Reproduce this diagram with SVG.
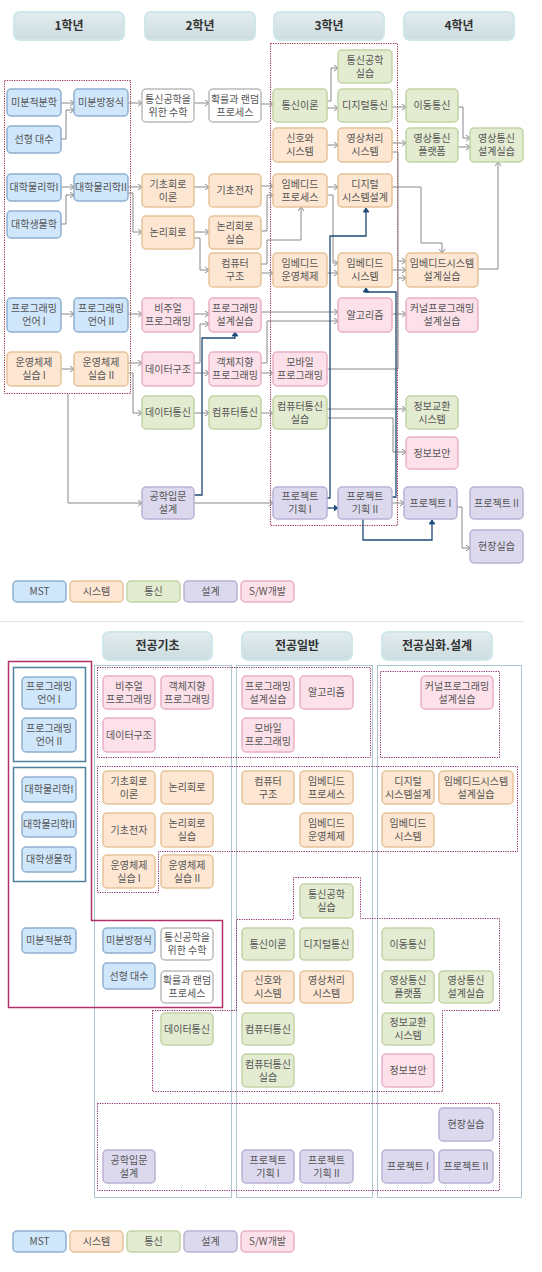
<svg xmlns="http://www.w3.org/2000/svg" width="542" height="1272" viewBox="0 0 542 1272">
<defs>
<linearGradient id="hg" x1="0" y1="0" x2="0" y2="1"><stop offset="0" stop-color="#e3edef"/><stop offset="1" stop-color="#ccdcdf"/></linearGradient>
<marker id="ag" markerUnits="userSpaceOnUse" markerWidth="6" markerHeight="7" refX="4.5" refY="3.5" orient="auto"><path d="M0.5,0.5 L4.5,3.5 L0.5,6.5" fill="none" stroke="#888" stroke-width="1"/></marker>
<marker id="ab" markerUnits="userSpaceOnUse" markerWidth="6" markerHeight="7" refX="4.5" refY="3.5" orient="auto"><path d="M0.5,0.5 L4.5,3.5 L0.5,6.5 Z" fill="#1c4a78" stroke="#1c4a78" stroke-width="0.8"/></marker>
</defs>
<style>
rect.n{stroke-width:1.5}
.mst{fill:#cfe6fb;stroke:#8fb0cf}
.sys{fill:#fde6d2;stroke:#e6c39a}
.com{fill:#e3ebd1;stroke:#c3d3a6}
.des{fill:#dcd9ee;stroke:#bbb0d6}
.sw{fill:#fde1ea;stroke:#e9b0c6}
.wht{fill:#ffffff;stroke:#bbbbbb}
text{font-family:"Noto Sans CJK KR","Liberation Sans",sans-serif;font-size:10px;fill:#555;text-anchor:middle}
text.h{font-size:12px;font-weight:bold;fill:#333}
.hd{fill:url(#hg);stroke:#cfe6ea;stroke-width:2}
.g path{fill:none;stroke:#888;stroke-width:1;marker-end:url(#ag)}
.g path.nm{marker-end:none}
.b path{fill:none;stroke:#1c4a78;stroke-width:1.3;marker-end:url(#ab)}
.rd{fill:none;stroke:#9a2a3a;stroke-width:1;stroke-dasharray:1.2,1.2}
.bd{fill:none;stroke:#5f8f9f;stroke-width:1;stroke-dasharray:1,1}
.md{fill:none;stroke:#8a2a6a;stroke-width:1;stroke-dasharray:1.2,1.2}
</style>
<rect width="542" height="1272" fill="#fff"/>

<!-- headers top -->
<g id="hdr-y1"><rect class="hd" x="14" y="12" width="110" height="28" rx="6"/><text class="h" x="69" y="30">1학년</text></g>
<g id="hdr-y2"><rect class="hd" x="145" y="12" width="110" height="28" rx="6"/><text class="h" x="200" y="30">2학년</text></g>
<g id="hdr-y3"><rect class="hd" x="274" y="12" width="110" height="28" rx="6"/><text class="h" x="329" y="30">3학년</text></g>
<g id="hdr-y4"><rect class="hd" x="404" y="12" width="110" height="28" rx="6"/><text class="h" x="459" y="30">4학년</text></g>

<rect class="rd" x="4.5" y="80.5" width="126" height="313"/>
<rect class="rd" x="270.5" y="43.5" width="127" height="482"/>

<!-- connectors top -->
<g id="connectors-top">
<g class="g">
<path d="M61,103 H74"/>
<path d="M61,139 H66 V110 H74"/>
<path d="M128,103 H142"/>
<path d="M194,103 H209"/>
<path d="M261,104 H273"/>
<path d="M327,101 H331 V68 H338"/>
<path d="M327,108 H338"/>
<path d="M392,107 H406"/>
<path d="M458,107 H463 V138 H470"/>
<path d="M327,145 H338"/>
<path d="M392,143 H406"/>
<path d="M458,147 H470"/>
<path class="nm" d="M392,152 H398 V369 H327"/>
<path d="M398,261 H406"/>
<path d="M398,278 H406"/>
<path d="M392,270 H406"/>
<path d="M392,187 H421 V243 H442 V253"/>
<path d="M478,269 H498 V162"/>
<path d="M327,187 H338"/>
<path d="M327,195 H333 V263 H338"/>
<path d="M327,273 H338"/>
<path d="M392,314 H406"/>
<path d="M261,312 H338"/>
<path d="M261,363 H267 V321 H338"/>
<path d="M261,373 H273"/>
<path d="M61,187 H74"/>
<path d="M61,224 H66 V195 H74"/>
<path d="M128,187 H142"/>
<path d="M128,193 H133 V232 H142"/>
<path d="M194,187 H209"/>
<path d="M261,186 H273"/>
<path d="M261,231 H267 V195 H273"/>
<path d="M194,232 H209"/>
<path d="M194,238 H200 V270 H209"/>
<path d="M261,264 H267 V240 H301 V207"/>
<path d="M261,273 H273"/>
<path d="M61,314 H74"/>
<path d="M128,314 H142"/>
<path d="M194,314 H209"/>
<path d="M61,369 H74"/>
<path d="M128,363 H142"/>
<path d="M128,373 H133 V413 H142"/>
<path d="M194,363 H200 V324 H209"/>
<path d="M194,373 H209"/>
<path d="M68,394 V503 H142"/>
<path d="M194,413 H209"/>
<path d="M261,413 H273"/>
<path d="M194,503 H273"/>
<path d="M327,409 H406"/>
<path d="M327,418 H393 V452 H406"/>
<path d="M392,503 H404"/>
<path d="M457,507 H462 V548 H470"/>
</g>
<g class="b">
<path d="M194,495 H202 V338 H235 V332"/>
<path d="M327,498 H330 V236 H366 V208"/>
<path d="M392,497 H396 V292 H366 V288"/>
<path d="M327,508 H338"/>
<path d="M363,519 V540 H432 V520"/>
</g>
</g>

<!-- top nodes -->
<g id="t-calc"><rect class="n mst" x="7" y="89" width="54" height="27" rx="4"/><text x="34" y="106">미분적분학</text></g>
<g id="t-diffeq"><rect class="n mst" x="74" y="89" width="54" height="27" rx="4"/><text x="101" y="106">미분방정식</text></g>
<g id="t-linalg"><rect class="n mst" x="7" y="126" width="54" height="27" rx="4"/><text x="34" y="143">선형 대수</text></g>
<g id="t-commmath"><rect class="n wht" x="142" y="89" width="52" height="33" rx="4"/><text x="168" y="102.5">통신공학을</text><text x="168" y="115.5">위한 수학</text></g>
<g id="t-prob"><rect class="n wht" x="209" y="89" width="52" height="33" rx="4"/><text x="235" y="102.5">확률과 랜덤</text><text x="235" y="115.5">프로세스</text></g>
<g id="t-commtheory"><rect class="n com" x="273" y="89" width="54" height="33" rx="4"/><text x="300" y="109">통신이론</text></g>
<g id="t-commlab"><rect class="n com" x="338" y="50" width="54" height="33" rx="4"/><text x="365" y="63.5">통신공학</text><text x="365" y="76.5">실습</text></g>
<g id="t-digcomm"><rect class="n com" x="338" y="89" width="54" height="33" rx="4"/><text x="365" y="109">디지털통신</text></g>
<g id="t-mobcomm"><rect class="n com" x="406" y="89" width="52" height="33" rx="4"/><text x="432" y="109">이동통신</text></g>
<g id="t-signal"><rect class="n sys" x="273" y="128" width="54" height="34" rx="4"/><text x="300" y="142">신호와</text><text x="300" y="155">시스템</text></g>
<g id="t-image"><rect class="n sys" x="338" y="128" width="54" height="34" rx="4"/><text x="365" y="142">영상처리</text><text x="365" y="155">시스템</text></g>
<g id="t-vplat"><rect class="n com" x="406" y="128" width="52" height="34" rx="4"/><text x="432" y="142">영상통신</text><text x="432" y="155">플랫폼</text></g>
<g id="t-vlab"><rect class="n com" x="470" y="128" width="53" height="34" rx="4"/><text x="496.5" y="142">영상통신</text><text x="496.5" y="155">설계실습</text></g>
<g id="t-phys1"><rect class="n mst" x="7" y="174" width="54" height="27" rx="4"/><text x="34" y="191">대학물리학I</text></g>
<g id="t-phys2"><rect class="n mst" x="74" y="174" width="54" height="27" rx="4"/><text x="101" y="191">대학물리학II</text></g>
<g id="t-bio"><rect class="n mst" x="7" y="211" width="54" height="27" rx="4"/><text x="34" y="228">대학생물학</text></g>
<g id="t-circuit"><rect class="n sys" x="142" y="174" width="52" height="33" rx="4"/><text x="168" y="187.5">기초회로</text><text x="168" y="200.5">이론</text></g>
<g id="t-elec"><rect class="n sys" x="209" y="174" width="52" height="33" rx="4"/><text x="235" y="194">기초전자</text></g>
<g id="t-embproc"><rect class="n sys" x="273" y="174" width="54" height="33" rx="4"/><text x="300" y="187.5">임베디드</text><text x="300" y="200.5">프로세스</text></g>
<g id="t-digsys"><rect class="n sys" x="338" y="174" width="54" height="33" rx="4"/><text x="365" y="187.5">디지털</text><text x="365" y="200.5">시스템설계</text></g>
<g id="t-logic"><rect class="n sys" x="142" y="216" width="52" height="33" rx="4"/><text x="168" y="236">논리회로</text></g>
<g id="t-logiclab"><rect class="n sys" x="209" y="216" width="52" height="33" rx="4"/><text x="235" y="229.5">논리회로</text><text x="235" y="242.5">실습</text></g>
<g id="t-arch"><rect class="n sys" x="209" y="253" width="52" height="34" rx="4"/><text x="235" y="267">컴퓨터</text><text x="235" y="280">구조</text></g>
<g id="t-embos"><rect class="n sys" x="273" y="253" width="54" height="34" rx="4"/><text x="300" y="267">임베디드</text><text x="300" y="280">운영체제</text></g>
<g id="t-embsys"><rect class="n sys" x="338" y="253" width="54" height="34" rx="4"/><text x="365" y="267">임베디드</text><text x="365" y="280">시스템</text></g>
<g id="t-embsyslab"><rect class="n sys" x="406" y="253" width="72" height="34" rx="4"/><text x="442" y="267">임베디드시스템</text><text x="442" y="280">설계실습</text></g>
<g id="t-pl1"><rect class="n mst" x="7" y="298" width="54" height="34" rx="4"/><text x="34" y="312">프로그래밍</text><text x="34" y="325">언어 I</text></g>
<g id="t-pl2"><rect class="n mst" x="74" y="298" width="54" height="34" rx="4"/><text x="101" y="312">프로그래밍</text><text x="101" y="325">언어 II</text></g>
<g id="t-visual"><rect class="n sw" x="142" y="298" width="52" height="34" rx="4"/><text x="168" y="312">비주얼</text><text x="168" y="325">프로그래밍</text></g>
<g id="t-proglab"><rect class="n sw" x="209" y="298" width="52" height="34" rx="4"/><text x="235" y="312">프로그래밍</text><text x="235" y="325">설계실습</text></g>
<g id="t-algo"><rect class="n sw" x="338" y="298" width="54" height="34" rx="4"/><text x="365" y="318.5">알고리즘</text></g>
<g id="t-kernel"><rect class="n sw" x="406" y="298" width="72" height="34" rx="4"/><text x="442" y="312">커널프로그래밍</text><text x="442" y="325">설계실습</text></g>
<g id="t-os1"><rect class="n sys" x="7" y="352" width="54" height="34" rx="4"/><text x="34" y="366">운영체제</text><text x="34" y="379">실습 I</text></g>
<g id="t-os2"><rect class="n sys" x="74" y="352" width="54" height="34" rx="4"/><text x="101" y="366">운영체제</text><text x="101" y="379">실습 II</text></g>
<g id="t-ds"><rect class="n sw" x="142" y="352" width="52" height="34" rx="4"/><text x="168" y="372.5">데이터구조</text></g>
<g id="t-oop"><rect class="n sw" x="209" y="352" width="52" height="34" rx="4"/><text x="235" y="366">객체지향</text><text x="235" y="379">프로그래밍</text></g>
<g id="t-mobile"><rect class="n sw" x="273" y="352" width="54" height="34" rx="4"/><text x="300" y="366">모바일</text><text x="300" y="379">프로그래밍</text></g>
<g id="t-datacomm"><rect class="n com" x="142" y="396" width="52" height="33" rx="4"/><text x="168" y="416">데이터통신</text></g>
<g id="t-netcomm"><rect class="n com" x="209" y="396" width="52" height="33" rx="4"/><text x="235" y="416">컴퓨터통신</text></g>
<g id="t-netlab"><rect class="n com" x="273" y="396" width="54" height="33" rx="4"/><text x="300" y="409.5">컴퓨터통신</text><text x="300" y="422.5">실습</text></g>
<g id="t-switch"><rect class="n com" x="406" y="396" width="52" height="33" rx="4"/><text x="432" y="409.5">정보교환</text><text x="432" y="422.5">시스템</text></g>
<g id="t-security"><rect class="n sw" x="406" y="437" width="52" height="32" rx="4"/><text x="432" y="456.5">정보보안</text></g>
<g id="t-intro"><rect class="n des" x="142" y="487" width="52" height="32" rx="4"/><text x="168" y="500">공학입문</text><text x="168" y="513">설계</text></g>
<g id="t-plan1"><rect class="n des" x="273" y="487" width="54" height="32" rx="4"/><text x="300" y="500">프로젝트</text><text x="300" y="513">기획 I</text></g>
<g id="t-plan2"><rect class="n des" x="338" y="487" width="54" height="32" rx="4"/><text x="365" y="500">프로젝트</text><text x="365" y="513">기획 II</text></g>
<g id="t-proj1"><rect class="n des" x="404" y="487" width="53" height="32" rx="4"/><text x="430.5" y="506.5">프로젝트 I</text></g>
<g id="t-proj2"><rect class="n des" x="470" y="487" width="53" height="32" rx="4"/><text x="496.5" y="506.5">프로젝트 II</text></g>
<g id="t-intern"><rect class="n des" x="470" y="530" width="53" height="33" rx="4"/><text x="496.5" y="550">현장실습</text></g>

<!-- legend top -->
<g id="legend-top">
<rect class="n mst" x="13" y="581" width="53" height="21" rx="4"/><text x="39.5" y="595">MST</text>
<rect class="n sys" x="70" y="581" width="53" height="21" rx="4"/><text x="96.5" y="595">시스템</text>
<rect class="n com" x="127" y="581" width="53" height="21" rx="4"/><text x="153.5" y="595">통신</text>
<rect class="n des" x="184" y="581" width="53" height="21" rx="4"/><text x="210.5" y="595">설계</text>
<rect class="n sw" x="241" y="581" width="53" height="21" rx="4"/><text x="267.5" y="595">S/W개발</text>
</g>

<line x1="0" y1="621.5" x2="524" y2="621.5" stroke="#e3e3e3" stroke-width="1"/>

<!-- headers bottom -->
<g id="hdr-basic"><rect class="hd" x="103" y="632" width="109" height="28" rx="6"/><text class="h" x="157.5" y="650">전공기초</text></g>
<g id="hdr-general"><rect class="hd" x="242" y="632" width="110" height="28" rx="6"/><text class="h" x="297" y="650">전공일반</text></g>
<g id="hdr-advanced"><rect class="hd" x="382" y="632" width="110" height="28" rx="6"/><text class="h" x="437" y="650">전공심화.설계</text></g>

<!-- region outlines bottom -->
<g id="regions">
<rect class="bd" x="94.5" y="665.5" width="137" height="532"/>
<rect class="bd" x="236.5" y="665.5" width="136" height="532"/>
<rect class="bd" x="377.5" y="665.5" width="144" height="532"/>
<rect class="md" x="97.5" y="667.5" width="273" height="90"/>
<rect class="md" x="380.5" y="671.5" width="119" height="86"/>
<path class="md" d="M97.5,766.5 H517.5 V851.5 H158.5 V892.5 H97.5 Z"/>
<path class="md" d="M152.5,1010.5 H236.5 V919.5 H293.5 V877.5 H360.5 V918.5 H499.5 V1010.5 H442.5 V1091.5 H152.5 Z"/>
<rect class="md" x="97.5" y="1103.5" width="402" height="87"/>
<path d="M8.5,661.5 H91.5 V920.5 H222.5 V1007.5 H8.5 Z" fill="none" stroke="#b2306a" stroke-width="1.5"/>
<rect x="13.5" y="667.5" width="72" height="94" fill="none" stroke="#4f7f9c" stroke-width="1.5"/>
<rect x="13.5" y="767.5" width="72" height="114" fill="none" stroke="#4f7f9c" stroke-width="1.5"/>
</g>

<!-- bottom nodes -->
<g id="b-pl1"><rect class="n mst" x="22" y="677" width="54" height="32" rx="4"/><text x="49" y="690">프로그래밍</text><text x="49" y="703">언어 I</text></g>
<g id="b-pl2"><rect class="n mst" x="22" y="718" width="54" height="34" rx="4"/><text x="49" y="732">프로그래밍</text><text x="49" y="745">언어 II</text></g>
<g id="b-phys1"><rect class="n mst" x="22" y="777" width="54" height="25" rx="4"/><text x="49" y="793">대학물리학I</text></g>
<g id="b-phys2"><rect class="n mst" x="22" y="812" width="54" height="25" rx="4"/><text x="49" y="828">대학물리학II</text></g>
<g id="b-bio"><rect class="n mst" x="22" y="847" width="54" height="25" rx="4"/><text x="49" y="863">대학생물학</text></g>
<g id="b-calc"><rect class="n mst" x="22" y="928" width="54" height="25" rx="4"/><text x="49" y="944">미분적분학</text></g>

<g id="b-visual"><rect class="n sw" x="103" y="676" width="52" height="33" rx="4"/><text x="129" y="689.5">비주얼</text><text x="129" y="702.5">프로그래밍</text></g>
<g id="b-oop"><rect class="n sw" x="161" y="676" width="52" height="33" rx="4"/><text x="187" y="689.5">객체지향</text><text x="187" y="702.5">프로그래밍</text></g>
<g id="b-ds"><rect class="n sw" x="103" y="718" width="52" height="34" rx="4"/><text x="129" y="738.5">데이터구조</text></g>
<g id="b-circuit"><rect class="n sys" x="103" y="771" width="52" height="33" rx="4"/><text x="129" y="784.5">기초회로</text><text x="129" y="797.5">이론</text></g>
<g id="b-logic"><rect class="n sys" x="161" y="771" width="52" height="33" rx="4"/><text x="187" y="791">논리회로</text></g>
<g id="b-elec"><rect class="n sys" x="103" y="813" width="52" height="34" rx="4"/><text x="129" y="833.5">기초전자</text></g>
<g id="b-logiclab"><rect class="n sys" x="161" y="813" width="52" height="34" rx="4"/><text x="187" y="827">논리회로</text><text x="187" y="840">실습</text></g>
<g id="b-os1"><rect class="n sys" x="103" y="855" width="52" height="33" rx="4"/><text x="129" y="868.5">운영체제</text><text x="129" y="881.5">실습 I</text></g>
<g id="b-os2"><rect class="n sys" x="161" y="855" width="52" height="33" rx="4"/><text x="187" y="868.5">운영체제</text><text x="187" y="881.5">실습 II</text></g>
<g id="b-diffeq"><rect class="n mst" x="103" y="928" width="52" height="25" rx="4"/><text x="129" y="944">미분방정식</text></g>
<g id="b-commmath"><rect class="n wht" x="161" y="928" width="52" height="32" rx="4"/><text x="187" y="941">통신공학을</text><text x="187" y="954">위한 수학</text></g>
<g id="b-linalg"><rect class="n mst" x="103" y="963" width="52" height="26" rx="4"/><text x="129" y="979.5">선형 대수</text></g>
<g id="b-prob"><rect class="n wht" x="161" y="971" width="52" height="32" rx="4"/><text x="187" y="984">확률과 랜덤</text><text x="187" y="997">프로세스</text></g>
<g id="b-datacomm"><rect class="n com" x="161" y="1013" width="52" height="32" rx="4"/><text x="187" y="1032.5">데이터통신</text></g>
<g id="b-intro"><rect class="n des" x="103" y="1150" width="52" height="33" rx="4"/><text x="129" y="1163.5">공학입문</text><text x="129" y="1176.5">설계</text></g>

<g id="b-proglab"><rect class="n sw" x="242" y="676" width="52" height="33" rx="4"/><text x="268" y="689.5">프로그래밍</text><text x="268" y="702.5">설계실습</text></g>
<g id="b-algo"><rect class="n sw" x="300" y="676" width="53" height="33" rx="4"/><text x="326.5" y="696">알고리즘</text></g>
<g id="b-mobile"><rect class="n sw" x="242" y="718" width="52" height="34" rx="4"/><text x="268" y="732">모바일</text><text x="268" y="745">프로그래밍</text></g>
<g id="b-arch"><rect class="n sys" x="242" y="771" width="52" height="33" rx="4"/><text x="268" y="784.5">컴퓨터</text><text x="268" y="797.5">구조</text></g>
<g id="b-embproc"><rect class="n sys" x="300" y="771" width="53" height="33" rx="4"/><text x="326.5" y="784.5">임베디드</text><text x="326.5" y="797.5">프로세스</text></g>
<g id="b-embos"><rect class="n sys" x="300" y="813" width="53" height="34" rx="4"/><text x="326.5" y="827">임베디드</text><text x="326.5" y="840">운영체제</text></g>
<g id="b-commlab"><rect class="n com" x="300" y="884" width="53" height="34" rx="4"/><text x="326.5" y="898">통신공학</text><text x="326.5" y="911">실습</text></g>
<g id="b-commtheory"><rect class="n com" x="242" y="928" width="52" height="32" rx="4"/><text x="268" y="947.5">통신이론</text></g>
<g id="b-digcomm"><rect class="n com" x="300" y="928" width="53" height="32" rx="4"/><text x="326.5" y="947.5">디지털통신</text></g>
<g id="b-signal"><rect class="n sys" x="242" y="971" width="52" height="32" rx="4"/><text x="268" y="984">신호와</text><text x="268" y="997">시스템</text></g>
<g id="b-image"><rect class="n sys" x="300" y="971" width="53" height="32" rx="4"/><text x="326.5" y="984">영상처리</text><text x="326.5" y="997">시스템</text></g>
<g id="b-netcomm"><rect class="n com" x="242" y="1013" width="52" height="32" rx="4"/><text x="268" y="1032.5">컴퓨터통신</text></g>
<g id="b-netlab"><rect class="n com" x="242" y="1054" width="52" height="33" rx="4"/><text x="268" y="1067.5">컴퓨터통신</text><text x="268" y="1080.5">실습</text></g>
<g id="b-plan1"><rect class="n des" x="242" y="1150" width="52" height="33" rx="4"/><text x="268" y="1163.5">프로젝트</text><text x="268" y="1176.5">기획 I</text></g>
<g id="b-plan2"><rect class="n des" x="300" y="1150" width="53" height="33" rx="4"/><text x="326.5" y="1163.5">프로젝트</text><text x="326.5" y="1176.5">기획 II</text></g>

<g id="b-kernel"><rect class="n sw" x="421" y="676" width="72" height="33" rx="4"/><text x="457" y="689.5">커널프로그래밍</text><text x="457" y="702.5">설계실습</text></g>
<g id="b-digsys"><rect class="n sys" x="382" y="771" width="52" height="33" rx="4"/><text x="408" y="784.5">디지털</text><text x="408" y="797.5">시스템설계</text></g>
<g id="b-embsyslab"><rect class="n sys" x="439" y="771" width="74" height="33" rx="4"/><text x="476" y="784.5">임베디드시스템</text><text x="476" y="797.5">설계실습</text></g>
<g id="b-embsys"><rect class="n sys" x="382" y="813" width="52" height="34" rx="4"/><text x="408" y="827">임베디드</text><text x="408" y="840">시스템</text></g>
<g id="b-mobcomm"><rect class="n com" x="382" y="928" width="52" height="32" rx="4"/><text x="408" y="947.5">이동통신</text></g>
<g id="b-vplat"><rect class="n com" x="382" y="971" width="52" height="32" rx="4"/><text x="408" y="984">영상통신</text><text x="408" y="997">플랫폼</text></g>
<g id="b-vlab"><rect class="n com" x="439" y="971" width="54" height="32" rx="4"/><text x="466" y="984">영상통신</text><text x="466" y="997">설계실습</text></g>
<g id="b-switch"><rect class="n com" x="382" y="1013" width="52" height="32" rx="4"/><text x="408" y="1026">정보교환</text><text x="408" y="1039">시스템</text></g>
<g id="b-security"><rect class="n sw" x="382" y="1054" width="52" height="33" rx="4"/><text x="408" y="1074">정보보안</text></g>
<g id="b-intern"><rect class="n des" x="439" y="1108" width="54" height="33" rx="4"/><text x="466" y="1128">현장실습</text></g>
<g id="b-proj1"><rect class="n des" x="382" y="1150" width="52" height="33" rx="4"/><text x="408" y="1170">프로젝트 I</text></g>
<g id="b-proj2"><rect class="n des" x="439" y="1150" width="54" height="33" rx="4"/><text x="466" y="1170">프로젝트 II</text></g>

<!-- legend bottom -->
<g id="legend-bottom">
<rect class="n mst" x="13" y="1231" width="53" height="21" rx="4"/><text x="39.5" y="1245">MST</text>
<rect class="n sys" x="70" y="1231" width="53" height="21" rx="4"/><text x="96.5" y="1245">시스템</text>
<rect class="n com" x="127" y="1231" width="53" height="21" rx="4"/><text x="153.5" y="1245">통신</text>
<rect class="n des" x="184" y="1231" width="53" height="21" rx="4"/><text x="210.5" y="1245">설계</text>
<rect class="n sw" x="241" y="1231" width="53" height="21" rx="4"/><text x="267.5" y="1245">S/W개발</text>
</g>
</svg>
